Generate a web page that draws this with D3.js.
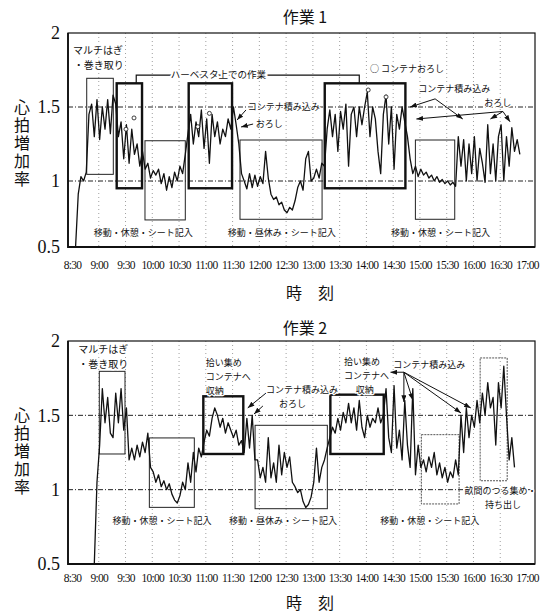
<!DOCTYPE html>
<meta charset="utf-8">
<title>作業1・作業2 心拍増加率</title>
<script src="https://d3js.org/d3.v7.min.js"></script>
<style>
  body { margin: 0; background: #fff; }
  .jp { font-family: "Noto Sans CJK JP", sans-serif; fill: #111; }
  .num { font-family: "Liberation Serif", "DejaVu Serif", serif; fill: #111; }
  .vert { writing-mode: vertical-rl; text-orientation: upright; }
</style>
<div id="chart"></div>
<script>

// time axis, minutes after 8:30
var tickMinutes = [0,30,60,90,120,150,180,210,240,270,300,330,360,390,420,450,480,510];
var tickLabels = ["8:30","9:00","9:30","10:00","10:30","11:00","11:30","12:00","12:30",
                  "13:00","13:30","14:00","14:30","15:00","15:30","16:00","16:30","17:00"];
var yTicks = [0.5, 1, 1.5, 2];
var yTickLabels = ["0.5", "1", "1.5", "2"];

// heart rate increase ratio, one reading every 3 minutes
var step = 3;
var start1 = 4;
var hr1 = [0.5,0.9,1.03,1.0,1.06,
  1.45,1.52,1.3,1.55,1.28,1.5,1.35,1.55,1.32,1.58,1.52,
  1.3,1.4,1.15,1.38,1.12,1.35,1.18,1.25,1.1,1.2,
  1.08,1.12,1.02,1.07,1.04,1.08,0.98,1.05,0.93,1.03,0.95,1.06,1.0,1.1,1.05,1.18,
  1.32,1.45,1.25,1.4,1.3,1.48,1.22,1.42,1.12,1.45,1.3,1.4,1.25,1.35,1.3,1.42,1.35,1.5,1.38,
  1.25,1.05,1.0,0.94,1.05,0.95,1.04,0.96,1.03,0.98,1.2,1.02,0.9,0.86,0.88,0.82,0.84,0.78,0.76,0.8,
  0.78,0.85,0.95,1.0,0.93,1.15,1.2,1.0,1.02,1.08,1.02,1.12,1.1,
  1.35,1.48,1.3,1.45,1.2,1.47,1.35,1.52,1.1,1.45,1.5,1.3,1.5,1.38,1.5,1.6,1.3,1.5,1.42,1.2,
  1.05,1.45,1.58,1.25,1.5,1.08,1.45,1.35,1.5,1.4,
  1.3,1.15,1.05,1.1,1.03,1.08,1.04,1.06,1.02,1.04,1.0,1.03,0.99,1.01,0.98,1.0,0.97,0.99,0.96,
  1.3,1.1,1.28,1.0,1.25,1.05,1.3,1.0,1.22,1.12,0.99,1.38,1.05,1.25,1.0,1.3,1.38,1.0,1.3,1.1,
  1.36,1.2,1.28,1.18];

var start2 = 25;
var hr2 = [0.5,1.05,1.3,1.68,1.45,1.62,1.38,1.35,1.65,1.45,1.68,1.4,1.55,1.2,
  1.28,1.2,1.3,1.22,1.32,1.25,1.38,1.15,
  1.12,1.05,1.1,1.02,1.06,1.0,1.04,0.97,0.93,0.91,0.96,1.05,1.0,1.18,1.05,1.25,1.12,
  1.28,1.22,
  1.32,1.4,1.36,1.48,1.55,1.5,1.42,1.48,1.38,1.45,1.4,1.35,1.4,1.3,1.33,
  1.25,1.48,1.28,1.5,1.2,
  1.2,1.08,1.15,1.05,1.35,1.08,1.18,1.05,1.3,1.1,1.25,1.15,1.22,1.05,1.02,0.98,1.0,0.92,0.88,0.9,
  0.95,1.05,1.28,1.05,1.15,1.2,1.28,
  1.35,1.42,1.38,1.48,1.4,1.52,1.45,1.58,1.45,1.55,1.4,1.6,1.42,1.35,1.5,1.42,1.48,1.45,1.55,1.45,1.5,
  1.68,1.35,1.25,1.7,1.28,1.4,1.2,1.6,1.3,1.15,1.68,1.1,1.3,
  1.15,1.2,1.12,1.22,1.15,1.25,1.1,1.18,1.08,1.15,1.05,1.12,1.08,1.2,1.1,
  1.5,1.25,1.55,1.35,1.5,1.42,1.6,1.45,
  1.65,1.5,1.72,1.55,1.62,1.3,1.72,1.55,1.83,1.5,
  1.2,1.35,1.15];

// work periods [from, to, low, high]
var thin1 = [[16.5,46.3,1.045,1.694],[81.8,127,0.705,1.272],[188.3,280.3,0.71,1.277],[384.9,429,0.71,1.277]];
var thick1 = [[50.1,78.5,0.945,1.66],[130.8,179.4,0.945,1.66],[283.3,373.7,0.945,1.66]];
var thin2 = [[30.6,59.4,1.24,1.796],[86.7,137.1,0.881,1.348],[205.2,286.2,0.872,1.433]];
var thick2 = [[147.2,192,1.24,1.628],[289.6,349.4,1.24,1.639]];
var dotted2 = [[391.6,433.9,0.904,1.37],[457.5,487.8,1.06,1.886]];

var notes1 = [
  ["マルチはぎ", 1, 1.88, "start"],
  ["・巻き取り", 2, 1.78, "start"],
  ["コンテナ積み込み", 197, 1.5, "start"],
  ["おろし", 206, 1.385, "start"],
  ["○ コンテナおろし", 334, 1.757, "start"],
  ["コンテナ積み込み", 388, 1.622, "start"],
  ["おろし", 462, 1.527, "start"],
  ["移動・休憩・シート記入", 80, 0.606, "middle"],
  ["移動・昼休み・シート記入", 235, 0.606, "middle"],
  ["移動・休憩・シート記入", 413, 0.606, "middle"]
];
var notes2 = [
  ["マルチはぎ", 7, 1.94, "start"],
  ["・巻き取り", 7, 1.845, "start"],
  ["拾い集め", 150, 1.852, "start"],
  ["コンテナへ", 150, 1.758, "start"],
  ["収納", 150, 1.664, "start"],
  ["コンテナ積み込み", 217.5, 1.67, "start"],
  ["おろし", 232, 1.576, "start"],
  ["拾い集め", 305, 1.859, "start"],
  ["コンテナへ", 305, 1.765, "start"],
  ["収納", 318, 1.67, "start"],
  ["コンテナ積み込み", 360, 1.839, "start"],
  ["畝間のつる集め・", 440, 0.991, "start"],
  ["持ち出し", 463, 0.9, "start"],
  ["移動・休憩・シート記入", 101, 0.789, "middle"],
  ["移動・昼休み・シート記入", 236.5, 0.789, "middle"],
  ["移動・休憩・シート記入", 401, 0.789, "middle"]
];

// arrows [from t, from v, to t, to v]
var arrows1 = [[407,1.555,379,1.5],[407,1.555,438,1.419],[483,1.47,386,1.419],[483,1.47,469,1.419],
               [483,1.47,491,1.40],[195,1.48,185,1.412],[203,1.385,189.5,1.365]];
var arrows2 = [[217.5,1.65,197,1.55],[214,1.563,204,1.509],[372,1.79,357,1.79],[372,1.79,372,1.59],
               [372,1.79,382,1.603],[372,1.79,436,1.516],[372,1.79,447,1.55]];
var marks1 = [[60.5,1.35],[69.5,1.426],[141,1.367],[154,1.457],[332,1.615],[352,1.568]];
var bracket1 = [72, 322, 1.66, 1.716];

var frameL = 68, frameR = 535;

var x = d3.scaleLinear().domain([0, 510]).range([72, 527]);

var svg = d3.select("#chart").append("svg")
    .attr("width", 554)
    .attr("height", 614);

svg.append("defs").append("marker")
    .attr("id", "ah")
    .attr("viewBox", "0 0 8 6")
    .attr("refX", 8).attr("refY", 3)
    .attr("markerWidth", 7).attr("markerHeight", 5)
    .attr("markerUnits", "userSpaceOnUse")
    .attr("orient", "auto")
  .append("path").attr("d", "M0,0L8,3L0,6Z").attr("fill", "#111");

function drawPanel(p) {
  var y = p.y;
  var top = y(2), bot = y(0.5);
  var g = svg.append("g");

  // dotted time grid
  g.selectAll(".vg").data(tickMinutes.slice(1, -1)).enter().append("line")
      .attr("x1", function(d) { return x(d); })
      .attr("x2", function(d) { return x(d); })
      .attr("y1", top).attr("y2", bot)
      .attr("stroke", "#888").attr("stroke-width", 0.8)
      .attr("stroke-dasharray", "1,3");

  g.selectAll(".hg").data([1, 1.5]).enter().append("line")
      .attr("x1", frameL).attr("x2", frameR)
      .attr("y1", function(d) { return y(d); })
      .attr("y2", function(d) { return y(d); })
      .attr("stroke", "#222").attr("stroke-width", 1)
      .attr("stroke-dasharray", "5,2,1,2");

  function boxes(data, w, dash, col) {
    g.selectAll(null).data(data).enter().append("rect")
        .attr("x", function(d) { return x(d[0]); })
        .attr("y", function(d) { return y(d[3]); })
        .attr("width", function(d) { return x(d[1]) - x(d[0]); })
        .attr("height", function(d) { return y(d[2]) - y(d[3]); })
        .attr("fill", "none").attr("stroke", col)
        .attr("stroke-width", w)
        .attr("stroke-dasharray", dash);
  }
  boxes(p.thin, 1, null, "#222");
  boxes(p.thick, 2.4, null, "#111");
  if (p.dotted) boxes(p.dotted, 1, "2,1", "#555");

  if (p.bracket) {
    var b = p.bracket;
    g.append("path")
        .attr("d", "M" + x(b[0]) + "," + y(b[2]) + "V" + y(b[3]) + "H" + x(b[1]) + "V" + y(b[2]))
        .attr("fill", "none").attr("stroke", "#111").attr("stroke-width", 1.2);
    g.append("text").attr("class", "jp")
        .attr("x", x((b[0] + b[1]) / 2 - 33)).attr("y", y(b[3]))
        .attr("dy", "0.35em").attr("text-anchor", "middle")
        .style("font-size", "9.5px")
        .attr("stroke", "#fff").attr("stroke-width", 4).attr("paint-order", "stroke")
        .text("ハーベスタ上での作業");
  }

  g.append("path").datum(p.values)
      .attr("d", d3.line()
          .x(function(d, i) { return x(p.start + i * step); })
          .y(function(d) { return y(d); }))
      .attr("fill", "none").attr("stroke", "#111")
      .attr("stroke-width", 1.3).attr("stroke-linejoin", "round");

  if (p.marks) {
    g.selectAll(null).data(p.marks).enter().append("circle")
        .attr("cx", function(d) { return x(d[0]); })
        .attr("cy", function(d) { return y(d[1]); })
        .attr("r", 2).attr("fill", "#fff").attr("stroke", "#111").attr("stroke-width", 0.8);
  }

  // frame
  g.append("rect")
      .attr("x", frameL).attr("y", top)
      .attr("width", frameR - frameL).attr("height", bot - top)
      .attr("fill", "none").attr("stroke", "#111").attr("stroke-width", 1.2);
  g.append("path")
      .attr("d", "M" + frameL + "," + top + "V" + bot + "H" + frameR)
      .attr("fill", "none").attr("stroke", "#111").attr("stroke-width", 1.8);

  // axes
  var xa = g.append("g")
      .attr("transform", "translate(0," + bot + ")")
      .call(d3.axisBottom(x).tickValues(tickMinutes)
          .tickFormat(function(d, i) { return tickLabels[i]; })
          .tickSize(0).tickPadding(p.pad));
  xa.select(".domain").remove();
  xa.selectAll("text").attr("class", "num")
      .style("font-size", "11.5px").style("letter-spacing", "-0.7px");

  var ya = g.append("g")
      .attr("transform", "translate(" + frameL + ",0)")
      .call(d3.axisLeft(y).tickValues(yTicks)
          .tickFormat(function(d, i) { return yTickLabels[i]; })
          .tickSize(0).tickPadding(8));
  ya.select(".domain").remove();
  ya.selectAll("text").attr("class", "num").style("font-size", "18px");

  // notes and arrows
  g.selectAll(null).data(p.arrows).enter().append("line")
      .attr("x1", function(d) { return x(d[0]); })
      .attr("y1", function(d) { return y(d[1]); })
      .attr("x2", function(d) { return x(d[2]); })
      .attr("y2", function(d) { return y(d[3]); })
      .attr("stroke", "#111").attr("stroke-width", 1)
      .attr("marker-end", "url(#ah)");

  g.selectAll(null).data(p.notes).enter().append("text")
      .attr("class", "jp")
      .attr("x", function(d) { return x(d[1]); })
      .attr("y", function(d) { return y(d[2]); })
      .attr("dy", "0.35em")
      .attr("text-anchor", function(d) { return d[3]; })
      .style("font-size", function(d) { return d[0].indexOf("マルチ") >= 0 || d[0].indexOf("巻き") >= 0 ? "10px" : "9px"; })
      .attr("stroke", "#fff").attr("stroke-width", 2.5).attr("paint-order", "stroke")
      .text(function(d) { return d[0]; });

  // titles
  svg.append("text").attr("class", "jp")
      .attr("x", 305).attr("y", p.titleY).attr("dy", "0.35em")
      .attr("text-anchor", "middle").style("font-size", "16px")
      .text(p.title);
  svg.append("text").attr("class", "jp")
      .attr("x", 310).attr("y", p.timeY).attr("dy", "0.35em")
      .attr("text-anchor", "middle").style("font-size", "16px")
      .attr("xml:space", "preserve")
      .text("時　刻");

  // vertical axis title
  svg.append("text").attr("class", "jp vert")
      .attr("x", 22).attr("y", p.labelY - 8)
      .style("font-size", "16px")
      .style("letter-spacing", "2px")
      .text("心拍増加率");
}

drawPanel({
  y: d3.scaleLinear().domain([0.5, 1, 2]).range([247, 181, 33]),
  values: hr1, start: start1,
  thin: thin1, thick: thick1,
  notes: notes1, arrows: arrows1, marks: marks1, bracket: bracket1,
  pad: 14, title: "作業 1", titleY: 17, timeY: 293, labelY: 107
});

drawPanel({
  y: d3.scaleLinear().domain([0.5, 2]).range([564, 341]),
  values: hr2, start: start2,
  thin: thin2, thick: thick2, dotted: dotted2,
  notes: notes2, arrows: arrows2,
  pad: 10, title: "作業 2", titleY: 328, timeY: 603, labelY: 415
});

</script>
